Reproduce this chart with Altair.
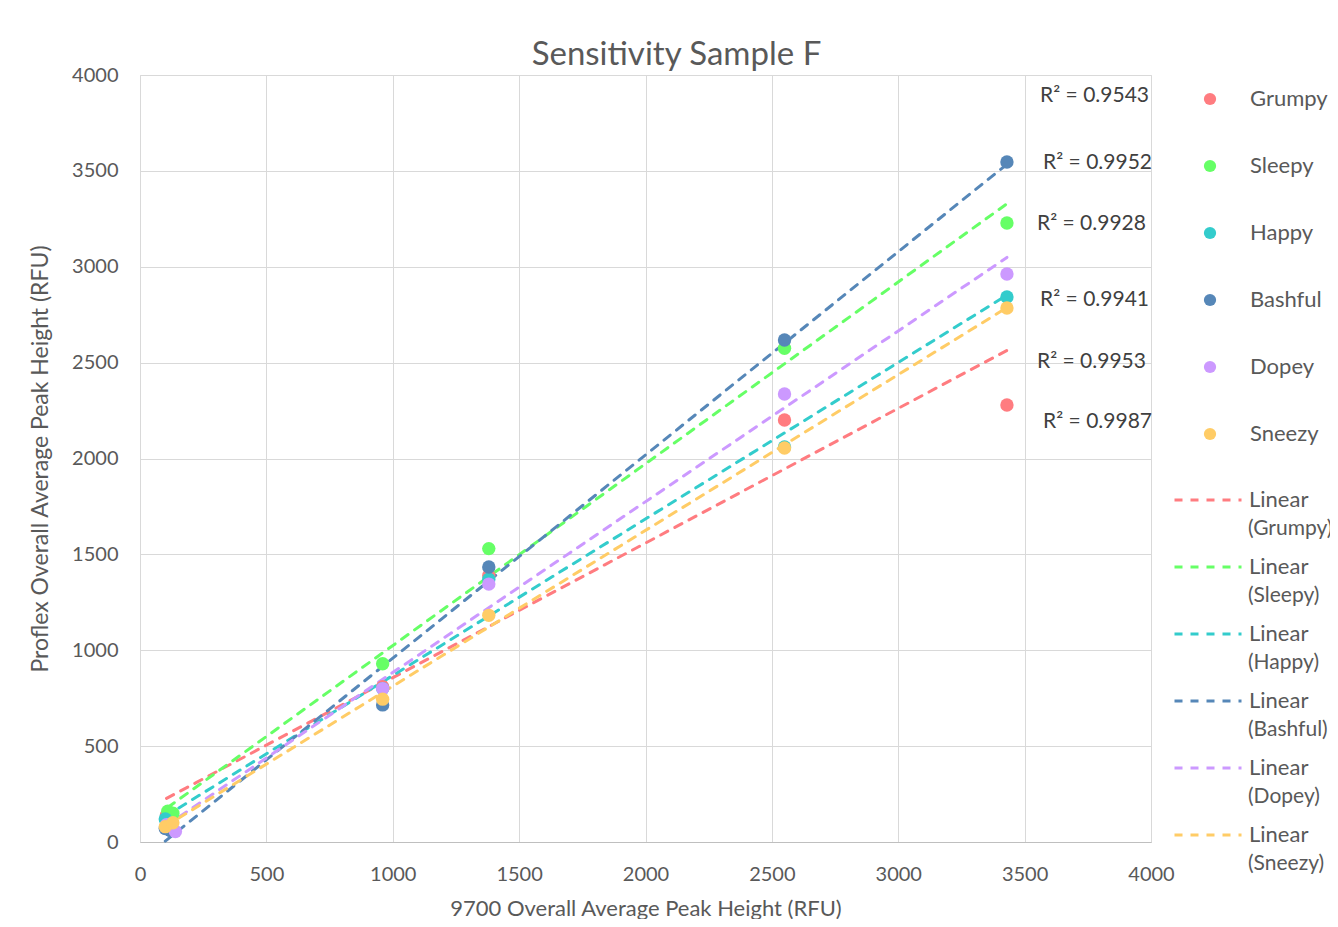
import altair as alt
import pandas as pd

series = ["Grumpy", "Sleepy", "Happy", "Bashful", "Dopey", "Sneezy"]
colors = ["#FF7C80", "#66FF66", "#33CCCC", "#5687B8", "#CC99FF", "#FFCC66"]

x_grumpy = [105, 125, 960, 1380, 2550, 3430]
y_grumpy = [140, 110, 810, 1390, 2201, 2279]
x_sleepy = [110, 130, 960, 1380, 2550, 3430]
y_sleepy = [160, 150, 930, 1530, 2575, 3228]
x_happy = [100, 125, 960, 1380, 2550, 3430]
y_happy = [120, 95, 800, 1370, 2060, 2842]
x_bashful = [100, 120, 960, 1380, 2550, 3430]
y_bashful = [70, 60, 715, 1434, 2618, 3546]
x_dopey = [105, 140, 960, 1380, 2550, 3430]
y_dopey = [90, 55, 800, 1345, 2336, 2962]
x_sneezy = [100, 130, 960, 1380, 2550, 3430]
y_sneezy = [80, 100, 745, 1182, 2055, 2785]

r2_text = ["R² = 0.9543", "R² = 0.9952", "R² = 0.9928", "R² = 0.9941", "R² = 0.9953", "R² = 0.9987"]
r2_x = [3561, 3573, 3549, 3561, 3549, 3573]
r2_y = [3890, 3541, 3223, 2827, 2503, 2190]

xs = [x_grumpy, x_sleepy, x_happy, x_bashful, x_dopey, x_sneezy]
ys = [y_grumpy, y_sleepy, y_happy, y_bashful, y_dopey, y_sneezy]
rows = []
for i, s in enumerate(series):
    for xv, yv in zip(xs[i], ys[i]):
        rows.append({"series": s, "x": xv, "y": yv, "ord": i})
df = pd.DataFrame(rows)
lab = pd.DataFrame({"t": r2_text, "x": r2_x, "y": r2_y})

FONT = "Lato"
GREY = "#595959"

xsc = alt.Scale(domain=[0, 4000], nice=False, zero=True)
ysc = alt.Scale(domain=[0, 4000], nice=False, zero=True)

xax = alt.Axis(values=list(range(0, 4001, 500)), format="d", title="9700 Overall Average Peak Height (RFU)",
               labelFontSize=20, titleFontSize=22, labelColor=GREY, titleColor=GREY,
               labelFont=FONT, titleFont=FONT, titleFontWeight="normal", grid=True,
               gridColor="#D9D9D9", domainColor="#BFBFBF", ticks=False, labelPadding=22,
               titlePadding=14, labelFlush=False)
yax = alt.Axis(values=list(range(0, 4001, 500)), format="d", title="Proflex Overall Average Peak Height (RFU)",
               labelFontSize=20, titleFontSize=23, labelColor=GREY, titleColor=GREY,
               labelFont=FONT, titleFont=FONT, titleFontWeight="normal", grid=True,
               gridColor="#D9D9D9", domain=False, ticks=False, labelPadding=22,
               titlePadding=19, labelFlush=False)

dash = [8, 8]
paren = ["(" + s + ")" for s in series]

base = alt.Chart(df)

lines = base.transform_regression("x", "y", groupby=["series"]).mark_line(
    strokeWidth=3, strokeCap="round", strokeDash=dash
).encode(
    x=alt.X("x:Q", scale=xsc, axis=xax),
    y=alt.Y("y:Q", scale=ysc, axis=yax),
    stroke=alt.Stroke("series:N", scale=alt.Scale(domain=series, range=colors),
                      legend=alt.Legend(orient="none", legendX=1033, legendY=390, title=None,
                                        symbolType="stroke", symbolSize=4489, symbolStrokeWidth=3,
                                        symbolDash=dash, labelFontSize=22, labelFont=FONT,
                                        labelColor=GREY, labelExpr="'Linear'",
                                        rowPadding=21, labelOffset=6, labelLimit=200)),
)

# second text row of each trendline legend entry: "(Name)"
names = base.transform_calculate(
    nm="'(' + datum.series + ')'"
).mark_point(opacity=0, filled=True).encode(
    x=alt.X("x:Q", scale=xsc),
    y=alt.Y("y:Q", scale=ysc),
    shape=alt.Shape("nm:N", scale=alt.Scale(domain=paren, range=["circle"] * 6),
                    legend=alt.Legend(orient="none", legendX=1059, legendY=443, title=None,
                                      symbolSize=150, symbolOpacity=0, symbolFillColor="white",
                                      symbolStrokeWidth=0,
                                      labelFontSize=21, labelFont=FONT, labelColor=GREY,
                                      rowPadding=45, labelOffset=28, labelLimit=200)),
)

points = base.mark_circle(size=180, opacity=1).encode(
    x=alt.X("x:Q", scale=xsc),
    y=alt.Y("y:Q", scale=ysc),
    color=alt.Color("series:N", scale=alt.Scale(domain=series, range=colors),
                    legend=alt.Legend(orient="none", legendX=1059, legendY=13, title=None,
                                      symbolType="circle", symbolSize=150, labelFontSize=22,
                                      labelFont=FONT, labelColor=GREY, rowPadding=45,
                                      labelOffset=29)),
    order=alt.Order("ord:Q"),
)

texts = alt.Chart(lab).mark_text(align="left", baseline="middle", fontSize=21, font=FONT,
                                 color="#404040").encode(
    x=alt.X("x:Q", scale=xsc),
    y=alt.Y("y:Q", scale=ysc),
    text="t:N",
)

chart = alt.layer(lines, names, points, texts).resolve_scale(
    color="independent", stroke="independent", shape="independent"
).properties(
    width=1011, height=767,
    title=alt.Title("Sensitivity Sample F", fontSize=33, font=FONT, fontWeight="normal",
                    color=GREY, anchor="middle", offset=-7, dx=31),
    autosize=alt.AutoSizeParams(type="none"),
    padding={"left": 132, "top": 67, "right": 179, "bottom": 77},
).configure_view(stroke="#D9D9D9").configure(background="white")

chart.save("out.html", embed_options={"renderer": "svg", "actions": False})
